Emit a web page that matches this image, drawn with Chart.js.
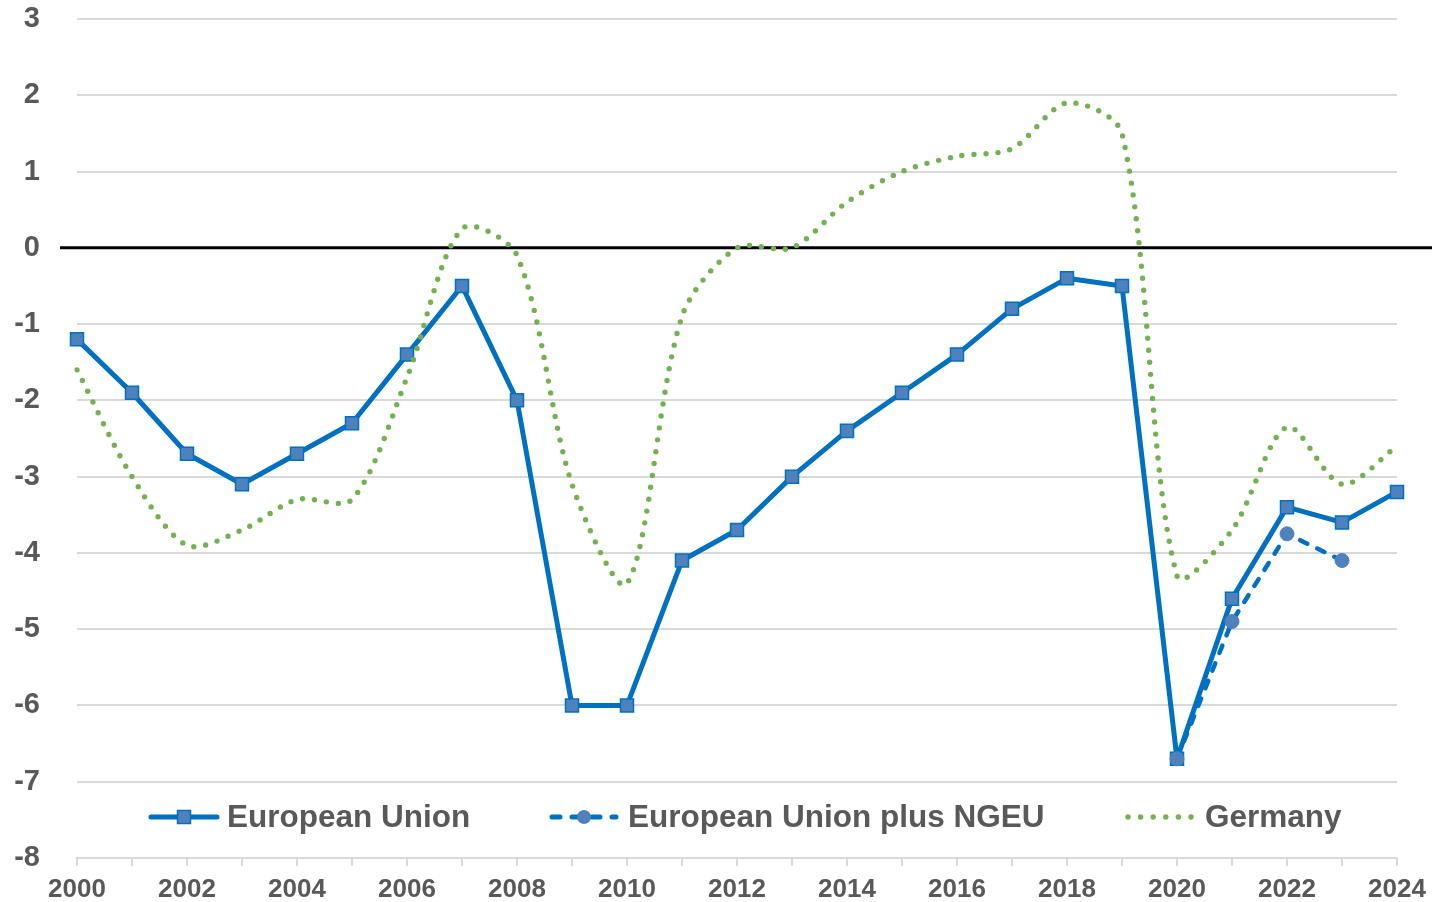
<!DOCTYPE html>
<html>
<head>
<meta charset="utf-8">
<script src="https://cdn.jsdelivr.net/npm/chart.js@4.4.1/dist/chart.umd.min.js"></script>
<style>
  html, body { margin: 0; padding: 0; background: #ffffff; }
  canvas { display: block; }
</style>
</head>
<body>
<canvas id="c" width="1432" height="902"></canvas>
<script>
const years = ['2000','2001','2002','2003','2004','2005','2006','2007','2008','2009','2010','2011','2012','2013','2014','2015','2016','2017','2018','2019','2020','2021','2022','2023','2024'];
const euValues = [-1.2,-1.9,-2.7,-3.1,-2.7,-2.3,-1.4,-0.5,-2.0,-6.0,-6.0,-4.1,-3.7,-3.0,-2.4,-1.9,-1.4,-0.8,-0.4,-0.5,-6.7,-4.6,-3.4,-3.6,-3.2];
const ngeuValues = [null,null,null,null,null,null,null,null,null,null,null,null,null,null,null,null,null,null,null,null,-6.7,-4.9,-3.75,-4.1,null];
const germanyValues = [-1.6,-3.0,-3.9,-3.7,-3.3,-3.3,-1.7,0.25,-0.1,-3.1,-4.4,-0.9,0.0,0.0,0.6,1.0,1.2,1.3,1.9,1.5,-4.3,-3.7,-2.35,-3.1,-2.6];
const seriesNames = ['European Union','European Union plus NGEU','Germany'];
const yMin = -8, yMax = 3;

const FONT = '"Liberation Sans", Arial, sans-serif';
const TEXT = '#595959';
const BLUE = '#0070C0';
const MARK = '#4F81BD';
const GREEN = '#74B152';
const GRID = '#D9D9D9';

const zeroLine = {
  id: 'zeroLine',
  beforeDatasetsDraw(chart) {
    const y = chart.scales.y.getPixelForValue(0);
    const ctx = chart.ctx;
    ctx.save();
    ctx.strokeStyle = '#000000';
    ctx.lineWidth = 3;
    ctx.beginPath();
    ctx.moveTo(60, y);
    ctx.lineTo(chart.width, y);
    ctx.stroke();
    ctx.restore();
  }
};

const customLegend = {
  id: 'customLegend',
  afterDraw(chart) {
    const ctx = chart.ctx;
    const y = 817;
    ctx.save();
    ctx.font = 'bold 31.5px ' + FONT;
    ctx.fillStyle = TEXT;
    ctx.textBaseline = 'middle';
    ctx.textAlign = 'left';
    // EU
    ctx.strokeStyle = BLUE; ctx.lineWidth = 5; ctx.lineCap = 'round';
    ctx.beginPath(); ctx.moveTo(151, y); ctx.lineTo(217, y); ctx.stroke();
    ctx.fillStyle = MARK; ctx.strokeStyle = BLUE; ctx.lineWidth = 1.5;
    ctx.fillRect(177.5, y - 6.5, 13, 13); ctx.strokeRect(177.5, y - 6.5, 13, 13);
    ctx.fillStyle = TEXT;
    ctx.fillText(seriesNames[0], 227, y + 1);
    // NGEU
    ctx.strokeStyle = BLUE; ctx.lineWidth = 5; ctx.lineCap = 'round';
    ctx.setLineDash([8, 12]);
    ctx.beginPath(); ctx.moveTo(552, y); ctx.lineTo(616, y); ctx.stroke();
    ctx.setLineDash([]);
    ctx.fillStyle = MARK;
    ctx.beginPath(); ctx.arc(584, y, 7, 0, Math.PI * 2); ctx.fill();
    ctx.fillStyle = TEXT;
    ctx.fillText(seriesNames[1], 628, y + 1);
    // Germany
    ctx.fillStyle = GREEN;
    for (let i = 0; i < 6; i++) {
      ctx.beginPath(); ctx.arc(1128 + i * 12.6, y, 2.7, 0, Math.PI * 2); ctx.fill();
    }
    ctx.fillStyle = TEXT;
    ctx.fillText(seriesNames[2], 1205, y + 1);
    ctx.restore();
  }
};

new Chart(document.getElementById('c'), {
  type: 'line',
  data: {
    labels: years,
    datasets: [
      {
        label: seriesNames[2], data: germanyValues, order: 0,
        borderColor: GREEN, borderWidth: 5.4, borderDash: [0, 12], borderCapStyle: 'round',
        tension: 0.3, pointRadius: 0, pointHoverRadius: 0, fill: false
      },
      {
        label: seriesNames[1], data: ngeuValues, order: 1,
        borderColor: BLUE, borderWidth: 4.5, borderDash: [8, 11], borderCapStyle: 'round',
        pointStyle: 'circle', pointRadius: 7, pointBackgroundColor: MARK, pointBorderColor: MARK,
        pointBorderWidth: 1, tension: 0, fill: false, spanGaps: false
      },
      {
        label: seriesNames[0], data: euValues, order: 2,
        borderColor: BLUE, borderWidth: 5, borderJoinStyle: 'round',
        pointStyle: 'rect', pointRadius: 9.2, pointBackgroundColor: MARK, pointBorderColor: BLUE,
        pointBorderWidth: 1.5, tension: 0, fill: false
      }
    ]
  },
  options: {
    responsive: false,
    devicePixelRatio: 1,
    animation: false,
    events: [],
    layout: { padding: { left: 0, right: 35, top: 19, bottom: 0 } },
    plugins: { legend: { display: false }, tooltip: { enabled: false } },
    scales: {
      x: {
        type: 'category',
        offset: false,
        afterFit(s) { s.height = 44; s.paddingLeft = 0; s.paddingRight = 0; },
        grid: { display: true, drawOnChartArea: false, drawTicks: true, tickLength: 8, color: GRID, lineWidth: 2 },
        border: { display: true, color: GRID, width: 2 },
        ticks: {
          autoSkip: false, maxRotation: 0, minRotation: 0, padding: 8,
          color: TEXT, font: { family: FONT, size: 26, weight: 'bold' },
          callback(v, i) { return (parseInt(years[i]) % 2 === 0) ? years[i] : ''; }
        }
      },
      y: {
        min: yMin, max: yMax,
        afterFit(s) { s.width = 77; s.paddingTop = 0; s.paddingBottom = 0; },
        grid: { color: GRID, lineWidth: 2, drawTicks: false },
        border: { display: false },
        ticks: {
          stepSize: 1, padding: 37,
          color: TEXT, font: { family: FONT, size: 29, weight: 'bold' }
        }
      }
    }
  },
  plugins: [zeroLine, customLegend]
});
</script>
</body>
</html>
